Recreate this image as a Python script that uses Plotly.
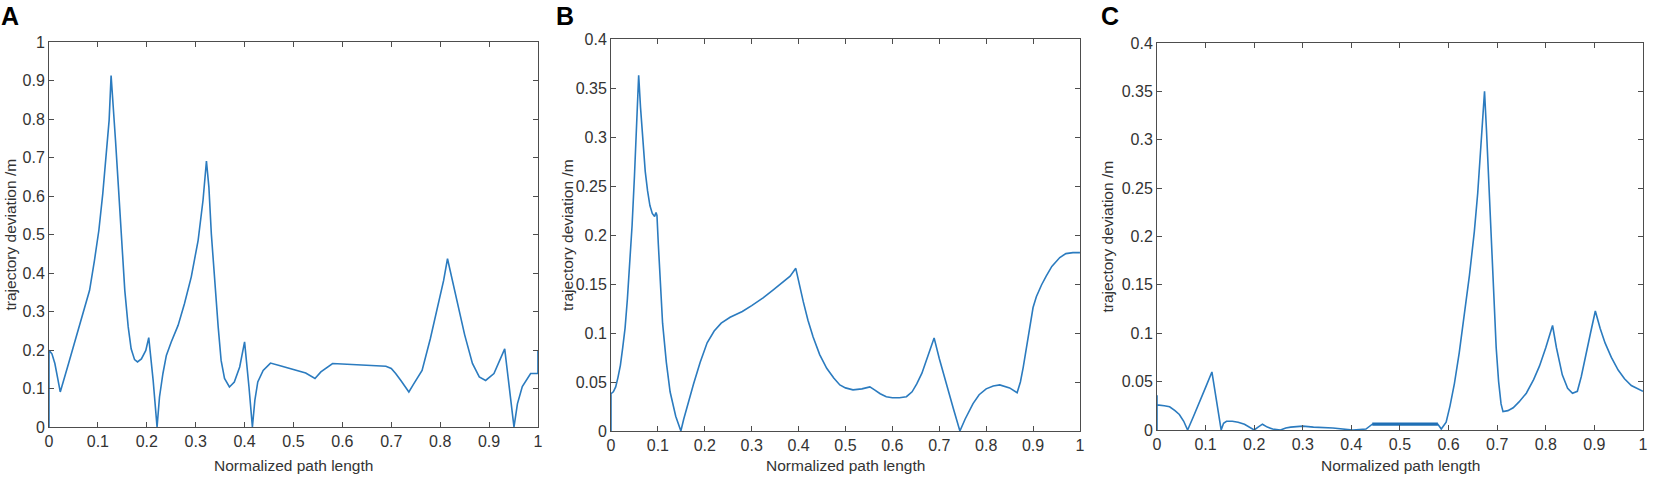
import plotly.graph_objects as go

W, H = 1654, 478

# ---------------- Data ----------------
a_x = [0.0, 0.0, 0.006, 0.012, 0.018, 0.023, 0.04, 0.056, 0.07, 0.083, 0.093, 0.102, 0.11, 0.117, 0.123, 0.127,
       0.131, 0.136, 0.142, 0.148, 0.155, 0.162, 0.168, 0.175, 0.181, 0.189, 0.198, 0.204, 0.213, 0.221,
       0.226, 0.233, 0.24, 0.25, 0.264, 0.277, 0.291, 0.305, 0.315, 0.322,
       0.327, 0.332, 0.339, 0.346, 0.352, 0.359, 0.369, 0.379, 0.39, 0.40, 0.409, 0.416,
       0.421, 0.427, 0.438, 0.453, 0.471, 0.5, 0.525, 0.544, 0.556, 0.58, 0.648, 0.689, 0.70, 0.709, 0.72, 0.736,
       0.745, 0.763, 0.78, 0.795, 0.807, 0.815, 0.825, 0.838, 0.85, 0.866, 0.88, 0.893, 0.91, 0.932,
       0.951, 0.958, 0.968, 0.985, 1.0, 1.0]
a_y = [0.0, 0.199, 0.19, 0.165, 0.125, 0.091, 0.165, 0.234, 0.294, 0.355, 0.433, 0.511, 0.606, 0.701, 0.797, 0.913,
       0.848, 0.745, 0.623, 0.485, 0.355, 0.26, 0.203, 0.175, 0.169, 0.177, 0.199, 0.232, 0.121, 0.0,
       0.078, 0.139, 0.186, 0.221, 0.264, 0.32, 0.39, 0.485, 0.589, 0.691,
       0.623, 0.502, 0.372, 0.26, 0.173, 0.126, 0.104, 0.117, 0.156, 0.221, 0.104, 0.0,
       0.069, 0.117, 0.147, 0.166, 0.160, 0.149, 0.14, 0.126, 0.143, 0.165, 0.160, 0.158, 0.152, 0.139, 0.12, 0.091,
       0.11, 0.147, 0.23, 0.31, 0.38, 0.437, 0.38, 0.31, 0.24, 0.165, 0.13, 0.121, 0.139, 0.203,
       0.0, 0.06, 0.105, 0.139, 0.139, 0.20]

b_x = [0.0, 0.0, 0.005, 0.01, 0.015, 0.02, 0.025, 0.03, 0.035, 0.04, 0.045, 0.05, 0.055, 0.059,
       0.063, 0.068, 0.073, 0.078, 0.083, 0.088, 0.093, 0.096, 0.098, 0.101, 0.105, 0.11, 0.118, 0.126, 0.138, 0.149,
       0.155, 0.162, 0.176, 0.19, 0.205, 0.22, 0.235, 0.254, 0.28, 0.3, 0.325, 0.346, 0.365, 0.382, 0.394,
       0.402, 0.41, 0.42, 0.431, 0.445, 0.46, 0.475, 0.488, 0.5, 0.516, 0.535, 0.552, 0.562, 0.574, 0.587,
       0.6, 0.615, 0.63, 0.642, 0.652, 0.663, 0.673, 0.681, 0.689, 0.7, 0.716, 0.73, 0.744,
       0.755, 0.772, 0.785, 0.8, 0.815, 0.829, 0.85, 0.866, 0.873, 0.879, 0.886, 0.893, 0.9, 0.907,
       0.918, 0.928, 0.94, 0.957, 0.97, 0.985, 1.0]
b_y = [0.0, 0.038, 0.04, 0.045, 0.055, 0.067, 0.085, 0.105, 0.135, 0.17, 0.21, 0.26, 0.31, 0.363,
       0.33, 0.295, 0.265, 0.245, 0.23, 0.222, 0.219, 0.223, 0.22, 0.19, 0.15, 0.11, 0.07, 0.04, 0.015, 0.0,
       0.012, 0.025, 0.048, 0.07, 0.09, 0.102, 0.11, 0.116, 0.122, 0.128, 0.136, 0.144, 0.151, 0.158, 0.166,
       0.148, 0.132, 0.113, 0.096, 0.078, 0.064, 0.054, 0.047, 0.044, 0.042, 0.043, 0.045, 0.042, 0.038, 0.035,
       0.034, 0.034, 0.035, 0.04, 0.048, 0.059, 0.072, 0.084, 0.095, 0.074, 0.046, 0.023, 0.0,
       0.012, 0.028, 0.037, 0.043, 0.046, 0.047, 0.044, 0.039, 0.05, 0.065, 0.087, 0.107, 0.126, 0.137,
       0.149, 0.158, 0.168, 0.177, 0.181, 0.182, 0.182]

c_x = [0.0, 0.0, 0.0, 0.015, 0.026, 0.037, 0.046, 0.055, 0.063, 0.075, 0.086, 0.1, 0.113, 0.122, 0.132,
       0.137, 0.143, 0.155, 0.167, 0.18, 0.19, 0.2, 0.208, 0.217, 0.227, 0.238, 0.254, 0.265, 0.275, 0.3,
       0.322, 0.362, 0.403, 0.43, 0.443, 0.5, 0.578, 0.585, 0.595, 0.603,
       0.612, 0.622, 0.632, 0.643, 0.653, 0.66, 0.666, 0.671, 0.674, 0.678, 0.683, 0.688, 0.693, 0.698,
       0.703, 0.708, 0.712, 0.722, 0.733, 0.745, 0.76, 0.775, 0.787, 0.8, 0.814,
       0.822, 0.834, 0.845, 0.855, 0.865, 0.873, 0.881, 0.892, 0.902, 0.912, 0.922, 0.935, 0.949,
       0.962, 0.976, 0.99, 1.0]
c_y = [0.0, 0.036, 0.026, 0.025, 0.024, 0.02, 0.016, 0.009, 0.0, 0.014, 0.028, 0.044, 0.06, 0.03, 0.0,
       0.007, 0.009, 0.009, 0.008, 0.006, 0.003, 0.0, 0.003, 0.006, 0.003, 0.001, 0.0, 0.002, 0.003, 0.004,
       0.003, 0.002, 0.0, 0.001, 0.006, 0.006, 0.006, 0.001, 0.008, 0.025,
       0.048, 0.08, 0.117, 0.16, 0.205, 0.245, 0.29, 0.33, 0.35, 0.31, 0.25, 0.19, 0.134, 0.085,
       0.05, 0.027, 0.019, 0.02, 0.023, 0.029, 0.038, 0.052, 0.066, 0.085, 0.108,
       0.085, 0.057, 0.043, 0.038, 0.04, 0.055, 0.075, 0.1, 0.123, 0.105, 0.09, 0.075, 0.062,
       0.053, 0.046, 0.042, 0.04]

# noisy thick band in panel C
band_x = [0.443, 0.47, 0.5, 0.53, 0.56, 0.578]
band_y = [0.006, 0.006, 0.006, 0.006, 0.006, 0.006]

x_ticks = [0, 0.1, 0.2, 0.3, 0.4, 0.5, 0.6, 0.7, 0.8, 0.9, 1]
x_labels = ["0", "0.1", "0.2", "0.3", "0.4", "0.5", "0.6", "0.7", "0.8", "0.9", "1"]
a_yticks = [0, 0.1, 0.2, 0.3, 0.4, 0.5, 0.6, 0.7, 0.8, 0.9, 1]
a_ylabels = ["0", "0.1", "0.2", "0.3", "0.4", "0.5", "0.6", "0.7", "0.8", "0.9", "1"]
bc_yticks = [0, 0.05, 0.1, 0.15, 0.2, 0.25, 0.3, 0.35, 0.4]
bc_ylabels = ["0", "0.05", "0.1", "0.15", "0.2", "0.25", "0.3", "0.35", "0.4"]

x_title = "Normalized path length"
y_title = "trajectory deviation /m"
panel_letters = ["A", "B", "C"]

# ---------------- Layout helpers ----------------
LINE = "#2b7bbf"
FONT = "Liberation Sans, Arial, sans-serif"
TXT = "#333333"

# plot-area pixel boxes (x0, x1, ytop, ybottom)
boxes = [(49, 538, 42, 427), (611, 1080, 39, 431), (1157, 1643, 43, 430)]

def px(x):
    return x / W

def py(y):
    return 1 - y / H

fig = go.Figure()
series = [(a_x, a_y), (b_x, b_y), (c_x, c_y)]
for i, (xs, ys) in enumerate(series):
    sfx = "" if i == 0 else str(i + 1)
    fig.add_trace(go.Scatter(x=xs, y=ys, mode="lines",
                             line=dict(color=LINE, width=1.6),
                             xaxis="x" + sfx, yaxis="y" + sfx,
                             showlegend=False, hoverinfo="skip"))
fig.add_trace(go.Scatter(x=band_x, y=band_y, mode="lines",
                         line=dict(color="#1f6fb5", width=3.2),
                         xaxis="x3", yaxis="y3", showlegend=False, hoverinfo="skip"))

axis_common = dict(showline=True, mirror="allticks", linecolor="#4d4d4d", linewidth=1,
                   ticks="inside", ticklen=5, tickcolor="#4d4d4d", tickwidth=1,
                   showgrid=False, zeroline=False, fixedrange=True,
                   automargin=False, ticklabeloverflow="allow",
                   tickfont=dict(family=FONT, size=16, color=TXT))

layout = dict(width=W, height=H, margin=dict(l=0, r=0, t=0, b=0, autoexpand=False),
              template="none",
              paper_bgcolor="white", plot_bgcolor="white", showlegend=False)

yranges = [[0, 1], [0, 0.4], [0, 0.4]]
yticks = [(a_yticks, a_ylabels), (bc_yticks, bc_ylabels), (bc_yticks, bc_ylabels)]
for i, (x0, x1, yt, yb) in enumerate(boxes):
    sfx = "" if i == 0 else str(i + 1)
    layout["xaxis" + sfx] = dict(axis_common, domain=[px(x0), px(x1)], range=[0, 1.0001],
                                 tickvals=x_ticks, ticktext=x_labels,
                                 anchor="y" + sfx)
    layout["yaxis" + sfx] = dict(axis_common, domain=[py(yb), py(yt)], range=yranges[i],
                                 tickvals=yticks[i][0], ticktext=yticks[i][1],
                                 anchor="x" + sfx)

fig.update_layout(**layout)

# axis titles and panel letters
ytitle_x = [10, 567, 1107]
letter_pos = [(10, 16), (565, 16), (1110, 16)]
for i, (x0, x1, yt, yb) in enumerate(boxes):
    fig.add_annotation(x=px((x0 + x1) / 2), y=py(465), xref="paper", yref="paper",
                       text=x_title, showarrow=False,
                       font=dict(family=FONT, size=15.5, color=TXT),
                       xanchor="center", yanchor="middle")
    fig.add_annotation(x=px(ytitle_x[i]), y=py((yt + yb) / 2), xref="paper", yref="paper",
                       text=y_title, showarrow=False, textangle=-90,
                       font=dict(family=FONT, size=15.5, color=TXT),
                       xanchor="center", yanchor="middle")
    lx, ly = letter_pos[i]
    fig.add_annotation(x=px(lx), y=py(ly), xref="paper", yref="paper",
                       text="<b>" + panel_letters[i] + "</b>", showarrow=False,
                       font=dict(family=FONT, size=25, color="black"),
                       xanchor="center", yanchor="middle")

# remove the browser's default 8px body margin so the figure fills the window exactly
fig.write_html("out.html", config={"displayModeBar": False},
               post_script="document.body.style.margin='0';document.body.style.overflow='hidden';")
